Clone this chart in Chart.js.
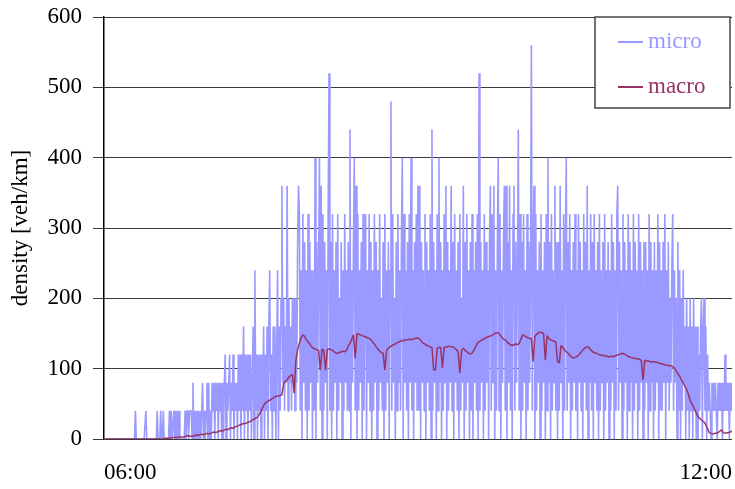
<!DOCTYPE html>
<html>
<head>
<meta charset="utf-8">
<script src="https://cdn.jsdelivr.net/npm/chart.js@4.4.1/dist/chart.umd.min.js"></script>
<style>
  html, body { margin: 0; padding: 0; background: #ffffff; }
  #wrap { width: 735px; height: 489px; position: relative; }
</style>
</head>
<body>
<div id="wrap"><canvas id="chart"></canvas></div>
<script>
// Axis labelling
const xTickLabels = ['06:00', '12:00'];
const yTicks = [0, 100, 200, 300, 400, 500, 600];
const seriesNames = ['micro', 'macro'];

// Sampling: micro every 30 s, macro every minute, from 06:00 (minute 0) to 12:00 (minute 360)
const microStepMin = 0.5;
const macroStepMin = 1;

// Micro-simulation density [veh/km], one array per hour (30 s samples)
const microH06 = [
  0,0,0,0,0,0,0,0,0,0,0,0,0,0,0,0,0,0,0,0,
  0,0,0,0,0,0,0,0,0,0,0,0,0,0,0,0,40,0,0,0,
  0,0,0,0,0,0,0,0,40,0,0,0,0,0,0,0,0,0,0,0,
  0,40,0,0,0,40,0,0,40,0,0,0,0,0,0,40,0,40,0,0,
  40,0,40,0,40,0,40,0,0,0,0,0,0,40,0,40,40,0,40,40,
  40,0,80,0,40,0,40,0,40,0,40,0,40,80,0,40,0,40,80,0
];
const microH07 = [
  80,0,40,0,80,40,80,0,80,40,80,0,80,40,80,0,80,0,80,120,
  0,80,40,80,120,0,80,40,120,0,80,40,80,0,120,40,120,0,120,40,
  160,0,120,40,120,0,120,40,120,0,80,160,0,240,40,120,0,120,40,120,
  0,120,40,160,0,120,40,160,0,160,240,40,120,0,160,40,160,0,120,240,
  0,160,40,200,360,80,200,40,160,80,360,40,200,80,160,40,200,80,200,40,
  200,80,280,360,320,40,240,0,320,80,280,40,240,0,320,40,280,80,240,0
];
const microH08 = [
  240,40,400,0,280,80,240,400,40,360,0,320,40,280,80,240,0,320,520,40,
  280,0,320,40,240,80,280,0,320,40,200,80,280,0,240,40,320,80,240,40,
  280,40,440,0,240,80,280,400,40,360,0,320,40,240,80,280,0,320,40,200,
  320,0,240,80,320,40,280,0,240,40,320,80,280,0,240,40,320,80,200,40,
  280,0,320,40,240,80,280,0,240,480,40,320,80,200,0,280,40,320,80,240,
  40,280,400,0,320,80,240,40,280,0,320,80,400,40,240,0,280,80,320,40
];
const microH09 = [
  360,40,360,0,280,80,240,40,320,0,280,80,240,40,320,0,440,40,280,80,
  240,0,320,40,400,80,280,0,240,40,320,80,360,0,280,40,240,80,360,40,
  280,0,320,80,240,40,280,0,320,40,200,80,360,0,280,40,320,80,240,0,
  280,40,320,0,240,80,280,40,320,0,520,40,280,80,240,0,320,40,280,80,
  240,0,280,360,40,320,80,360,0,240,40,280,400,40,320,0,240,80,280,360,
  40,360,0,280,80,360,40,240,0,320,360,40,280,80,240,440,40,320,0,280
];
const microH10 = [
  40,320,80,240,0,320,40,280,80,240,560,40,280,360,0,320,40,240,80,280,
  0,320,40,240,80,280,0,320,40,400,80,280,0,320,40,240,80,360,40,280,
  0,280,40,360,80,240,0,320,40,280,400,40,280,80,320,0,240,40,280,80,
  320,40,240,0,320,80,280,40,240,0,320,80,280,40,360,0,240,80,320,40,
  280,0,320,80,240,40,280,0,320,40,240,80,280,0,320,40,240,80,280,0,
  240,40,320,80,280,0,240,40,320,360,40,280,80,240,0,320,40,280,80,240
];
const microH11 = [
  0,320,40,280,80,240,0,320,40,280,80,240,0,320,40,280,80,240,0,280,
  40,280,80,240,0,320,40,280,80,240,0,280,40,240,80,320,0,280,40,240,
  40,280,80,320,0,240,80,280,40,200,80,240,320,40,240,80,200,0,280,40,
  240,0,200,40,240,80,160,0,200,40,160,0,200,40,160,0,200,40,160,0,
  160,0,120,40,160,200,0,160,200,40,160,0,120,40,80,40,0,80,40,80,
  40,80,40,0,80,40,80,40,80,0,80,40,120,40,80,40,80,0,80,40,80
];

// Macroscopic model density [veh/km], one value per minute
const macroDensity = [
  0,0,0,0,0,0,0,0,0,0,0,0,0,0,0,0,0,0,0,0,0,0,0,0,0,0,0,0,0,0,0,0,0,0,0,
  1,1,1,1,2,2,2,2,3,3,3,3,4,5,4,4,
  4,5,6,5,6,7,6,7,8,7,8,9,10,9,
  10,11,12,11,13,14,13,15,16,15,17,18,19,
  20,21,22,22,23,24,25,27,28,30,
  31,35,40,45,50,
  52,54,55,57,58,60,61,61,62,
  63,79,82,84,88,90,92,
  65,
  112,127,136,144,148,146,
  141,138,135,131,129,128,127,126,
  98,
  128,126,
  98,
  127,128,127,126,124,122,122,123,124,125,124,126,132,
  136,142,148,
  115,
  150,149,148,147,146,145,144,143,141,138,135,
  131,128,125,123,122,
  98,
  126,129,131,133,134,135,137,138,139,140,140,141,141,
  142,141,142,143,143,144,142,139,
  136,135,133,132,131,130,
  98,98,
  129,130,130,
  101,
  130,131,131,132,131,131,129,127,
  124,
  94,
  126,129,126,124,122,121,122,126,131,
  136,138,140,141,143,144,145,146,147,148,150,151,
  151,148,145,142,141,138,136,
  134,133,134,135,134,136,142,
  148,147,145,144,143,143,
  110,
  146,149,151,152,151,150,
  112,
  147,143,141,140,139,138,
  110,
  108,
  133,130,127,124,122,119,117,
  115,116,117,119,122,125,128,130,
  131,130,127,124,123,122,121,120,119,
  119,118,118,117,117,118,117,118,119,120,121,
  122,121,120,118,117,116,115,115,114,114,113,112,
  84,
  112,111,111,110,110,110,109,109,108,107,107,106,105,
  105,104,104,103,101,97,93,89,
  84,80,75,70,64,55,50,45,40,34,
  31,28,26,24,20,14,9,
  8,7,8,8,9,11,13,9,8,9,9,10,11
];

const microDensity = [].concat(microH06, microH07, microH08, microH09, microH10, microH11);
const toPoints = (vals, step) => vals.map((v, i) => ({ x: i * step, y: v }));

const FONT = '"Liberation Serif", "Times New Roman", serif';

// Boxed legend drawn in the upper right corner of the plot area
const boxedLegend = {
  id: 'boxedLegend',
  afterDraw(chart) {
    const { ctx, chartArea } = chart;
    const w = 135, h = 91;
    const x0 = chartArea.right - w - 2;
    const y0 = chartArea.top;
    ctx.save();
    ctx.fillStyle = '#ffffff';
    ctx.fillRect(x0, y0, w, h);
    ctx.strokeStyle = '#444444';
    ctx.lineWidth = 1.5;
    ctx.strokeRect(x0, y0, w, h);
    ctx.font = '23px ' + FONT;
    ctx.textBaseline = 'middle';
    ctx.textAlign = 'left';
    chart.data.datasets.forEach((ds, i) => {
      const cy = y0 + 25 + i * 45;
      ctx.strokeStyle = ds.borderColor;
      ctx.lineWidth = 2;
      ctx.beginPath();
      ctx.moveTo(x0 + 23, cy);
      ctx.lineTo(x0 + 48, cy);
      ctx.stroke();
      ctx.fillStyle = ds.borderColor;
      ctx.fillText(ds.label, x0 + 53, cy);
    });
    ctx.restore();
  }
};

new Chart(document.getElementById('chart'), {
  type: 'line',
  data: {
    datasets: [
      {
        label: seriesNames[0],
        data: toPoints(microDensity, microStepMin),
        borderColor: '#9999ff',
        borderWidth: 1.6,
        borderJoinStyle: 'bevel',
        pointRadius: 0,
        tension: 0,
        order: 2
      },
      {
        label: seriesNames[1],
        data: toPoints(macroDensity, macroStepMin),
        borderColor: '#993366',
        borderWidth: 1.5,
        borderJoinStyle: 'bevel',
        pointRadius: 0,
        tension: 0,
        order: 1
      }
    ]
  },
  options: {
    responsive: true,
    maintainAspectRatio: false,
    animation: false,
    events: [],
    layout: { padding: { top: 17, right: 3, left: 0, bottom: 0 } },
    plugins: {
      legend: { display: false },
      tooltip: { enabled: false }
    },
    scales: {
      x: {
        type: 'linear',
        min: 0,
        max: 360,
        afterBuildTicks: (scale) => { scale.ticks = [{ value: 0 }, { value: 360 }]; },
        afterFit: (scale) => {
          scale.height = 50;
          scale.paddingLeft = 0;
          scale.paddingRight = 0;
        },
        grid: { display: false, drawTicks: false },
        border: { display: false },
        ticks: {
          align: 'inner',
          maxRotation: 0,
          autoSkip: false,
          padding: 20,
          color: '#000000',
          font: { family: FONT, size: 23 },
          callback: (value, index) => xTickLabels[index]
        }
      },
      y: {
        min: 0,
        max: 600,
        afterBuildTicks: (scale) => { scale.ticks = yTicks.map(v => ({ value: v })); },
        afterFit: (scale) => {
          scale.width = 104;
          scale.paddingTop = 0;
          scale.paddingBottom = 0;
        },
        grid: { color: '#3a3a3a', lineWidth: 1, tickLength: 11, drawTicks: true },
        border: { display: true, color: '#000000', width: 1.5 },
        ticks: {
          padding: 11,
          color: '#000000',
          font: { family: FONT, size: 23 }
        },
        title: {
          display: true,
          text: 'density [veh/km]',
          color: '#000000',
          font: { family: FONT, size: 23 },
          padding: { top: 7, bottom: 0 }
        }
      }
    }
  },
  plugins: [boxedLegend]
});
</script>
</body>
</html>
